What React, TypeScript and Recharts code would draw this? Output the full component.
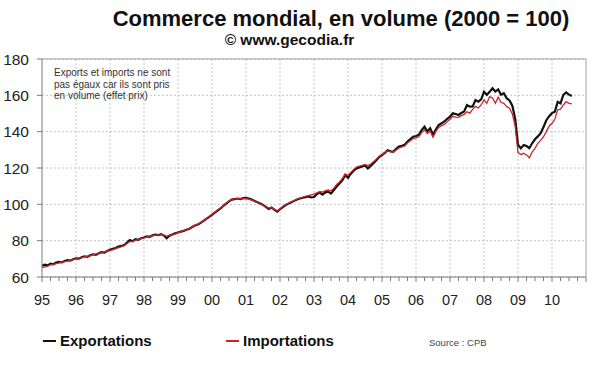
import React from 'react';
import { LineChart, Line, XAxis, YAxis, CartesianGrid, ReferenceLine } from 'recharts';

const startYear = 1995;

const exportations: number[] = [
  66.2, 66.8, 66.4, 67.3, 67.0, 67.9, 68.3, 68.0, 68.8, 69.3, 69.0, 69.8,
  70.3, 70.1, 70.9, 71.4, 71.1, 72.0, 72.5, 72.2, 73.1, 73.7, 73.4, 74.3,
  75.0, 75.5, 76.0, 76.7, 77.1, 77.6, 78.9, 80.3, 79.7, 80.8, 80.5, 81.3,
  81.7, 82.4, 82.1, 82.9, 83.3, 83.0, 83.6, 82.8, 81.3, 82.7, 83.4, 84.0,
  84.5, 85.0, 85.4, 86.0, 86.6, 87.5, 88.3, 88.9, 89.8, 90.9, 92.0, 93.1,
  94.2, 95.4, 96.6, 97.7, 99.2, 100.4, 101.6, 102.6, 102.9, 103.2, 102.9, 103.4,
  103.5, 103.2, 102.6, 101.9, 101.2, 100.5, 99.7, 98.6, 97.5, 98.3, 97.1, 96.0,
  97.3, 98.5, 99.6, 100.4, 101.2, 101.9, 102.7, 103.2, 103.6, 104.0, 104.3, 103.8,
  104.0, 105.6, 106.5, 105.4, 106.6, 107.0, 105.9, 107.9, 109.8, 111.4, 113.2, 116.0,
  114.6, 116.9, 118.5, 119.8, 120.3, 120.8, 121.4, 119.8, 121.2, 122.7, 124.3, 126.0,
  127.1, 128.3, 129.8, 129.2, 128.9, 130.5, 131.8, 132.2, 132.8, 134.6, 135.9, 137.2,
  137.6, 138.3, 140.9, 142.8, 140.1, 141.9, 138.4, 141.2, 143.7, 144.6, 145.6, 147.1,
  148.3, 150.1, 149.7, 149.2, 150.3, 151.1, 154.7, 153.8, 153.9, 157.4, 156.5, 157.8,
  162.0, 160.3, 161.9, 163.9, 162.1, 163.3, 160.3, 161.2, 158.4, 157.2, 154.3, 147.2,
  132.8, 130.8, 132.6, 132.1, 130.9, 133.6, 135.8, 137.4, 139.2, 142.6, 146.3, 148.5,
  150.2, 151.0, 156.4, 155.6, 160.2, 161.6, 160.4, 159.6,
];

const importations: number[] = [
  65.2, 65.6, 66.0, 66.7, 66.9, 67.4, 67.8, 68.1, 68.4, 68.8, 69.2, 69.6,
  70.0, 70.4, 70.6, 71.1, 71.4, 71.8, 72.2, 72.6, 73.0, 73.4, 73.8, 74.2,
  74.6, 75.1, 75.6, 76.2, 76.7, 77.3, 78.4, 79.5, 79.6, 80.3, 80.6, 81.1,
  81.6, 82.1, 82.4, 82.7, 83.0, 83.1, 83.3, 83.0, 82.5, 82.9, 83.3, 83.8,
  84.4, 84.9, 85.5, 86.1, 86.8, 87.6, 88.4, 89.1, 90.0, 91.0, 92.1, 93.3,
  94.4, 95.5, 96.8, 98.0, 99.4, 100.6, 101.8, 102.7, 103.0, 103.1, 103.0, 103.2,
  103.2, 102.9, 102.4, 101.7, 101.0, 100.3, 99.5, 98.8, 97.9, 98.2, 97.3, 96.4,
  97.6, 98.8, 99.8, 100.6, 101.4, 102.1, 102.8, 103.4, 103.9, 104.4, 104.8, 105.2,
  105.6, 106.3, 107.0, 106.8, 107.6, 107.9, 107.4, 108.8, 110.9, 112.3, 114.2, 116.8,
  116.0, 117.6, 119.2, 120.5, 121.1, 121.5, 122.0, 121.3, 122.2, 123.4, 124.9, 126.5,
  127.5, 128.4, 129.4, 128.9, 128.8, 129.9, 131.0, 131.6, 132.2, 133.9, 135.0, 136.2,
  136.6, 137.2, 139.5, 141.0, 139.0, 140.3, 136.9, 140.0, 142.3, 143.3, 144.0, 145.6,
  146.8, 148.5, 148.0, 147.9, 148.8, 149.5, 151.0, 150.2, 152.3, 153.9, 153.0, 154.7,
  157.5, 155.6, 159.3, 158.6, 155.6, 159.0, 156.2, 155.6, 153.8, 152.9, 149.8, 143.0,
  128.5, 127.4, 128.1, 127.2, 125.6, 128.8, 130.8, 133.6, 135.2, 137.2, 140.0, 143.0,
  144.6, 146.8, 152.0, 152.4, 154.7, 156.5, 155.6, 155.3,
];

const yearTicks: number[] = [1995, 1996, 1997, 1998, 1999, 2000, 2001, 2002, 2003, 2004, 2005, 2006, 2007, 2008, 2009, 2010, 2011];
const yearLabels: string[] = ['95', '96', '97', '98', '99', '00', '01', '02', '03', '04', '05', '06', '07', '08', '09', '10', ''];
const yTicks: number[] = [60, 80, 100, 120, 140, 160, 180];

const quarterTicks: number[] = [];
for (let y = 1995; y < 2011; y++) {
  for (let q = 0; q < 4; q++) quarterTicks.push(y + q / 4);
}
quarterTicks.push(2011);

const data = exportations.map((v, i) => ({
  t: startYear + i / 12,
  exp: v,
  imp: importations[i],
}));

const FONT = '"Liberation Sans", Arial, sans-serif';

const XTick = (props: any) => {
  const { x, y, payload } = props;
  const val: number = payload.value;
  const isYear = Math.abs(val - Math.round(val)) < 1e-6;
  const idx = yearTicks.indexOf(Math.round(val));
  return (
    <g>
      <line x1={x} x2={x} y1={y} y2={y + (isYear ? 5 : 4)} stroke="#7a7a7a" strokeWidth={1} />
      {isYear && idx >= 0 && yearLabels[idx] ? (
        <text x={x} y={y + 28} textAnchor="middle" fontSize={14.5} fill="#222" fontFamily={FONT}>
          {yearLabels[idx]}
        </text>
      ) : null}
    </g>
  );
};

export default function App() {
  return (
    <div style={{ position: 'absolute', left: 0, top: 0, width: 600, height: 372, background: '#fff', fontFamily: FONT }}>
      <LineChart width={600} height={372} data={data} margin={{ top: 59, right: 14, bottom: 65, left: 0 }}>
        <CartesianGrid vertical={false} stroke="#c4c4c4" strokeDasharray="2 2" />
        {yearTicks.slice(1, -1).map((yr) => (
          <ReferenceLine key={yr} x={yr} stroke="#c4c4c4" strokeDasharray="2 2" />
        ))}
        <ReferenceLine y={180} stroke="#a0a0a0" strokeWidth={1} />
        <ReferenceLine x={2011} stroke="#a0a0a0" strokeWidth={1} />
        <XAxis
          dataKey="t"
          type="number"
          domain={[1995, 2011]}
          ticks={quarterTicks}
          interval={0}
          tickLine={false}
          tickSize={0}
          tickMargin={0}
          height={30}
          axisLine={{ stroke: '#7a7a7a' }}
          tick={<XTick />}
        />
        <YAxis
          type="number"
          domain={[60, 180]}
          ticks={yTicks}
          interval={0}
          width={42}
          tickSize={5}
          tickMargin={8}
          axisLine={{ stroke: '#7a7a7a' }}
          tickLine={{ stroke: '#7a7a7a' }}
          tick={{ fontSize: 15.5, fill: '#222', fontFamily: FONT }}
        />
        <Line type="linear" dataKey="exp" stroke="#111" strokeWidth={2.2} dot={false} isAnimationActive={false} />
        <Line type="linear" dataKey="imp" stroke="#c8262a" strokeWidth={1.3} dot={false} isAnimationActive={false} />
      </LineChart>

      <div style={{ position: 'absolute', left: 0, top: 6, width: 682, textAlign: 'center', fontSize: 22, fontWeight: 'bold', color: '#111', whiteSpace: 'nowrap' }}>
        Commerce mondial, en volume (2000 = 100)
      </div>
      <div style={{ position: 'absolute', left: 0, top: 31, width: 579, textAlign: 'center', fontSize: 15.5, fontWeight: 'bold', color: '#111', whiteSpace: 'nowrap' }}>
        © www.gecodia.fr
      </div>
      <div style={{ position: 'absolute', left: 54, top: 67, fontSize: 10, lineHeight: '11.5px', color: '#333', whiteSpace: 'nowrap' }}>
        <div>Exports et imports ne sont</div>
        <div>pas égaux car ils sont pris</div>
        <div>en volume (effet prix)</div>
      </div>
      <div style={{ position: 'absolute', left: 43, top: 332, display: 'flex', alignItems: 'center', whiteSpace: 'nowrap' }}>
        <span style={{ display: 'inline-block', width: 13, height: 2, background: '#111', marginRight: 4 }} />
        <span style={{ fontSize: 15, fontWeight: 'bold', color: '#111' }}>Exportations</span>
      </div>
      <div style={{ position: 'absolute', left: 226, top: 332, display: 'flex', alignItems: 'center', whiteSpace: 'nowrap' }}>
        <span style={{ display: 'inline-block', width: 13, height: 2, background: '#c8262a', marginRight: 4 }} />
        <span style={{ fontSize: 15, fontWeight: 'bold', color: '#111' }}>Importations</span>
      </div>
      <div style={{ position: 'absolute', left: 429, top: 337, fontSize: 9.5, color: '#444', whiteSpace: 'nowrap' }}>
        Source : CPB
      </div>
    </div>
  );
}
